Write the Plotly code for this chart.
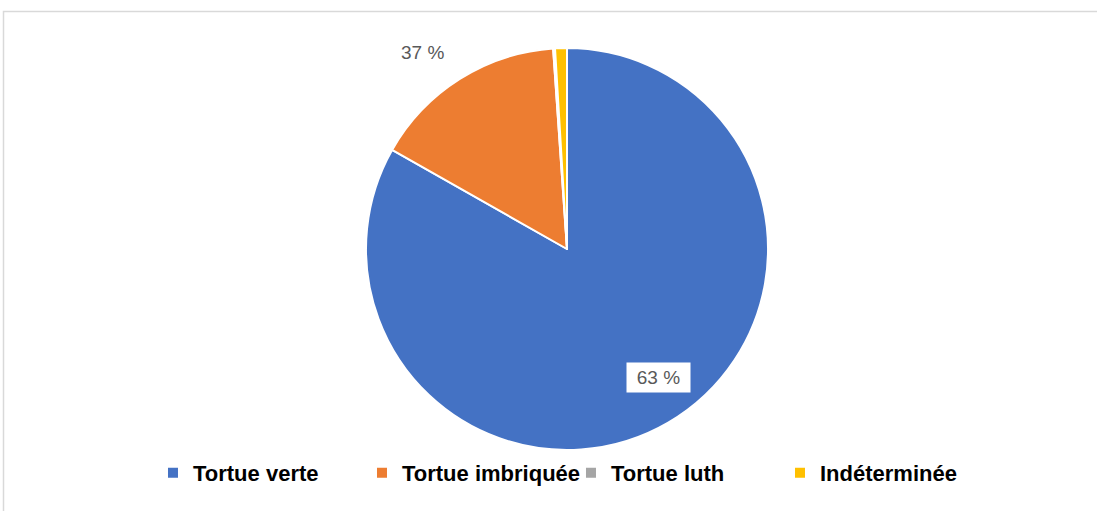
import plotly.graph_objects as go

categories = ["Tortue verte", "Tortue imbriquée", "Tortue luth", "Indéterminée"]
values = [83.2, 15.7, 0.15, 0.95]
colors = ["#4472C4", "#ED7D31", "#A5A5A5", "#FFC000"]
label_texts = ["63 %", "37 %"]

W, H = 1097, 511
fig = go.Figure(go.Pie(
    labels=categories,
    values=values,
    sort=False,
    direction="clockwise",
    rotation=0,
    marker=dict(colors=colors, line=dict(color="white", width=2)),
    textinfo="none",
    hoverinfo="label+percent",
    domain=dict(x=[366 / W, 768 / W], y=[(H - 450) / H, (H - 48) / H]),
))

fig.add_annotation(x=658 / W, y=1 - 377 / H, xref="paper", yref="paper",
                   xanchor="center", yanchor="middle",
                   text=label_texts[0], showarrow=False, bgcolor="white",
                   width=55, height=21, borderpad=4,
                   font=dict(family="Liberation Sans", size=19, color="#595959"))
fig.add_annotation(x=422 / W, y=1 - 52 / H, xref="paper", yref="paper",
                   xanchor="center", yanchor="middle",
                   text=label_texts[1], showarrow=False,
                   font=dict(family="Liberation Sans", size=19, color="#595959"))

fig.add_shape(type="rect", xref="paper", yref="paper",
              x0=3.5 / W, x1=1.01, y0=-0.01, y1=1 - 11.5 / H,
              line=dict(color="#D9D9D9", width=1.5))

fig.update_layout(
    width=W, height=H,
    margin=dict(l=0, r=0, t=0, b=0),
    paper_bgcolor="white",
    showlegend=True,
    legend=dict(orientation="h", x=0.5205, xanchor="center", y=1 - 473 / H, yanchor="middle",
                font=dict(family="Liberation Sans", size=22, color="black", weight="bold"),
                itemwidth=30, entrywidthmode="pixels", entrywidth=164),
)

fig.write_html("out.html", config={"displayModeBar": False},
               post_script="document.body.style.margin='0';")
